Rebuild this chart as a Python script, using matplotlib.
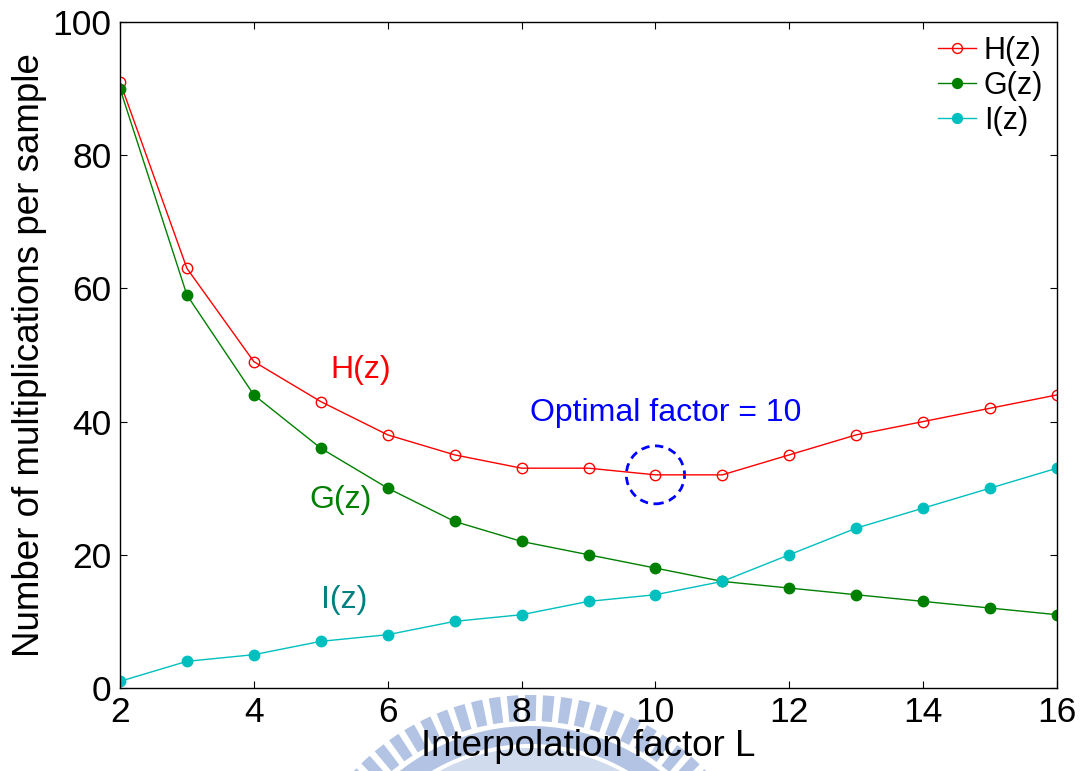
import numpy as np
import matplotlib
matplotlib.use("Agg")
import matplotlib.pyplot as plt
from matplotlib.patches import Ellipse, Wedge

plt.rcParams['font.family'] = ['Liberation Sans', 'DejaVu Sans']

L = [2, 3, 4, 5, 6, 7, 8, 9, 10, 11, 12, 13, 14, 15, 16]
h_mults = [91, 63, 49, 43, 38, 35, 33, 33, 32, 32, 35, 38, 40, 42, 44]
g_mults = [90, 59, 44, 36, 30, 25, 22, 20, 18, 16, 15, 14, 13, 12, 11]
i_mults = [1, 4, 5, 7, 8, 10, 11, 13, 14, 16, 20, 24, 27, 30, 33]
optimal_L = 10

red = '#ff0000'
green = '#008000'
cyan = '#00bfbf'
teal_text = '#008080'
blue = '#0000ff'

fig = plt.figure(figsize=(10.83, 7.71), dpi=100)

# faint seal emblem printed under the x axis label
wm = fig.add_axes([0, 0, 1, 1], zorder=-1)
wm.set_xlim(0, 1083)
wm.set_ylim(771, 0)
wm.axis('off')
seal = '#b3c3e3'
cx, cy, r = 530, 937, 242
for a in np.arange(200, 340, 4.3):
    wm.add_patch(Wedge((cx, cy), r, a, a + 2.7, width=26, color=seal, lw=0))
wm.add_patch(Wedge((cx, cy), r - 31, 180, 360, width=18, color=seal, lw=0))
wm.add_patch(Wedge((cx, cy), r - 53, 180, 360, width=40, color=seal, lw=0,
                   alpha=0.6))

ax = fig.add_axes([0.1108, 0.1077, 0.8652, 0.8638])

ax.plot(L, h_mults, '-o', color=red, lw=1.0, ms=7.5, mfc='none', mew=1.0, label='H(z)')
ax.plot(L, g_mults, '-o', color=green, lw=1.0, ms=7.5, mfc=green, mew=1.0, label='G(z)')
ax.plot(L, i_mults, '-o', color=cyan, lw=1.0, ms=7.5, mfc=cyan, mew=1.0, label='I(z)')

ax.set_xlim(2, 16)
ax.set_ylim(0, 100)
ax.set_xticks(range(2, 17, 2))
ax.set_yticks(range(0, 101, 20))
ax.tick_params(direction='in', length=5, width=0.8, top=True, right=True,
               labelsize=25.5, pad=6)
for s in ax.spines.values():
    s.set_linewidth(1.0)

ax.set_xlabel('Interpolation factor L', fontsize=26.5, labelpad=0)
ax.set_ylabel('Number of multiplications per sample', fontsize=26.5, labelpad=4)

ax.text(5.6, 47.7, 'H(z)', color=red, fontsize=23, ha='center', va='center')
ax.text(5.3, 28.2, 'G(z)', color=green, fontsize=23, ha='center', va='center')
ax.text(5.35, 13.2, 'I(z)', color=teal_text, fontsize=23, ha='center', va='center')
ax.text(10.15, 41.3, 'Optimal factor = %d' % optimal_L, color=blue,
        fontsize=23, ha='center', va='center')

opt_idx = L.index(optimal_L)
ax.add_patch(Ellipse((optimal_L, h_mults[opt_idx]), 0.87, 8.7, fill=False,
                     edgecolor=blue, lw=2.0, ls=(0, (3, 2))))

leg = ax.legend(loc='upper right', fontsize=22, frameon=False,
                handlelength=1.25, handletextpad=0.25, labelspacing=0.17,
                borderaxespad=0.05, markerscale=0.95)

fig.savefig('out.png', dpi=100)
